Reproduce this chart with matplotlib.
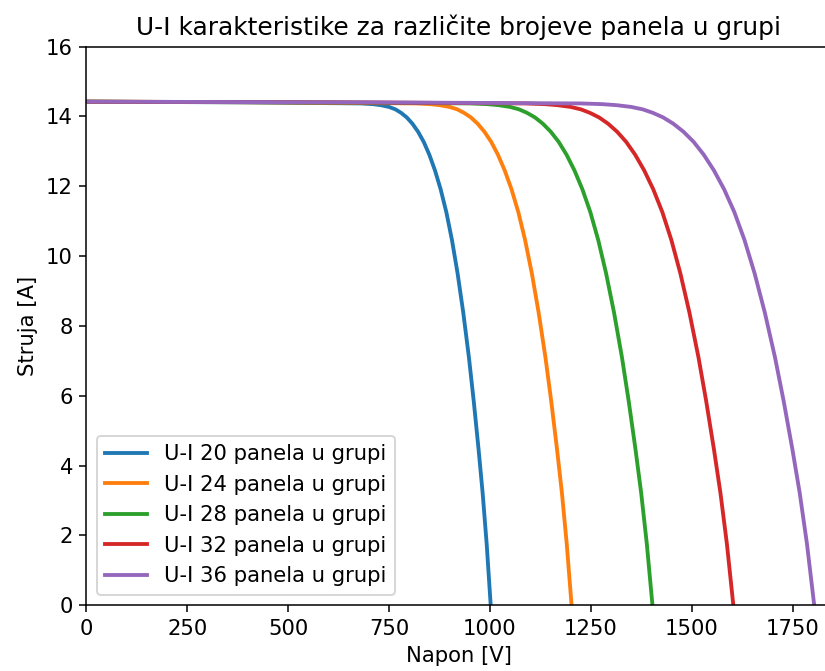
import matplotlib
matplotlib.use("Agg")
import matplotlib.pyplot as plt

# struja (A) - zajednicka za sve krive
struja = [14.42, 14.40, 14.37, 14.35, 14.32, 14.27, 14.20, 14.10, 13.97, 13.79,
          13.56, 13.27, 12.90, 12.45, 11.91, 11.26, 10.46, 9.50, 8.38, 7.10,
          5.84, 4.46, 3.22, 1.76, 0.0]

# napon (V) za svaku grupu panela
napon_20 = [0, 400, 680, 710, 730, 750, 766, 780, 794, 808,
            822, 836, 850, 864, 878, 892, 906, 920, 934, 948,
            960, 972, 982, 992, 1002]
napon_24 = [0, 480, 816, 852, 876, 900, 919.2, 936, 952.8, 969.6,
            986.4, 1003.2, 1020, 1036.8, 1053.6, 1070.4, 1087.2, 1104, 1120.8, 1137.6,
            1152, 1166.4, 1178.4, 1190.4, 1202.4]
napon_28 = [0, 560, 952, 994, 1022, 1050, 1072.4, 1092, 1111.6, 1131.2,
            1150.8, 1170.4, 1190, 1209.6, 1229.2, 1248.8, 1268.4, 1288, 1307.6, 1327.2,
            1344, 1360.8, 1374.8, 1388.8, 1402.8]
napon_32 = [0, 640, 1088, 1136, 1168, 1200, 1225.6, 1248, 1270.4, 1292.8,
            1315.2, 1337.6, 1360, 1382.4, 1404.8, 1427.2, 1449.6, 1472, 1494.4, 1516.8,
            1536, 1555.2, 1571.2, 1587.2, 1603.2]
napon_36 = [0, 720, 1224, 1278, 1314, 1350, 1378.8, 1404, 1429.2, 1454.4,
            1479.6, 1504.8, 1530, 1555.2, 1580.4, 1605.6, 1630.8, 1656, 1681.2, 1706.4,
            1728, 1749.6, 1767.6, 1785.6, 1803.6]

broj_panela = [20, 24, 28, 32, 36]
naponi = [napon_20, napon_24, napon_28, napon_32, napon_36]


def main():
    plt.rcParams['font.size'] = 11
    dpi = 138
    fig = plt.figure(figsize=(825 / dpi, 671 / dpi), dpi=dpi)
    # desni rub osi je izvan slike (kao u originalu)
    ax = fig.add_axes([0.1046, 0.0979, 0.9026, 0.8328])

    for n, napon in zip(broj_panela, naponi):
        ax.plot(napon, struja, linewidth=2, label=f"U-I {n} panela u grupi")

    ax.set_xlim(0, 1845)
    ax.set_ylim(0, 16)
    ax.set_xlabel("Napon [V]")
    ax.set_ylabel("Struja [A]")
    ax.set_title("U-I karakteristike za različite brojeve panela u grupi", fontsize=13)
    ax.legend(loc="lower left")

    fig.savefig("out.png", dpi=dpi)


if __name__ == "__main__":
    main()
